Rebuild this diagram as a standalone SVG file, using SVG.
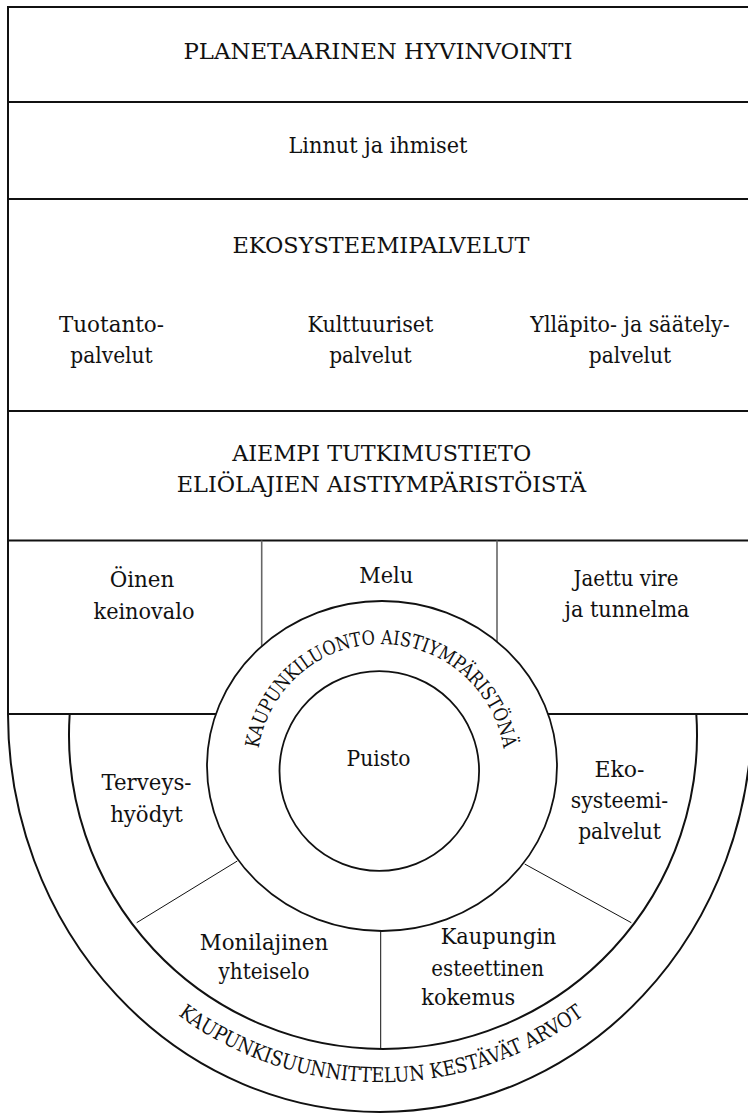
<svg xmlns="http://www.w3.org/2000/svg" width="748" height="1113" viewBox="0 0 748 1113">
  <style>
    .frame { fill: none; stroke: #111; stroke-width: 2; }
    .thin { fill: none; stroke: #111; stroke-width: 1; }
    .gray { fill: none; stroke: #666; stroke-width: 1.6; }
    .ring { fill: #fff; stroke: #111; stroke-width: 1.8; }
  </style>
  <defs>
    <path id="ringTop" d="M 293.3 855.7 A 124 124 0 1 1 468.7 855.7"/>
    <path id="ringBottom" d="M 45.2 681.8 A 341 341 0 1 0 716.8 681.8"/>
  </defs>
  <rect x="0" y="0" width="748" height="1113" fill="#fff"/>

  <g id="frame">
    <line class="frame" x1="8" y1="7" x2="760" y2="7"/>
    <line class="frame" x1="8" y1="6" x2="8" y2="714"/>
    <path class="frame" d="M 8 714 A 372 398 0 0 0 752 714"/>
  </g>

  <g id="dividers">
    <line class="frame" x1="8" y1="102" x2="760" y2="102"/>
    <line class="frame" x1="8" y1="199" x2="760" y2="199"/>
    <line class="frame" x1="8" y1="411" x2="760" y2="411"/>
    <line class="frame" x1="8" y1="540.5" x2="760" y2="540.5"/>
    <line class="frame" x1="8" y1="714" x2="760" y2="714"/>
    <line class="gray" x1="261.7" y1="540.5" x2="261.7" y2="700"/>
    <line class="gray" x1="497" y1="540.5" x2="497" y2="700"/>
    <path class="frame" d="M 69.7 714 A 314 314 0 1 0 696.3 714"/>
    <line class="thin" x1="136.7" y1="922.7" x2="237.3" y2="861"/>
    <line class="thin" x1="524.7" y1="864" x2="631.3" y2="922.7"/>
    <line class="thin" x1="380.7" y1="931" x2="380.7" y2="1049"/>
  </g>

  <g font-family="DejaVu Serif, Liberation Serif, Noto Serif, serif" font-size="22.5" text-anchor="middle" fill="#111">
  <g id="planetaarinen-hyvinvointi">
    <text x="378" y="59" font-size="22" textLength="389" lengthAdjust="spacingAndGlyphs">PLANETAARINEN HYVINVOINTI</text>
  </g>
  <g id="linnut-ja-ihmiset">
    <text x="378" y="153" textLength="179" lengthAdjust="spacingAndGlyphs">Linnut ja ihmiset</text>
  </g>
  <g id="ekosysteemipalvelut">
    <text x="381" y="252.7" font-size="22" textLength="297" lengthAdjust="spacingAndGlyphs">EKOSYSTEEMIPALVELUT</text>
    <g id="tuotantopalvelut">
      <text x="111.5" y="331.7" textLength="105" lengthAdjust="spacingAndGlyphs">Tuotanto-</text>
      <text x="111.5" y="363.3" textLength="82.5" lengthAdjust="spacingAndGlyphs">palvelut</text>
    </g>
    <g id="kulttuuriset-palvelut">
      <text x="370.4" y="331.7" textLength="126" lengthAdjust="spacingAndGlyphs">Kulttuuriset</text>
      <text x="370.4" y="363.3" textLength="82.5" lengthAdjust="spacingAndGlyphs">palvelut</text>
    </g>
    <g id="yllapito-saately">
      <text x="630" y="331.7" textLength="199.4" lengthAdjust="spacingAndGlyphs">Ylläpito- ja säätely-</text>
      <text x="630" y="363.3" textLength="82.5" lengthAdjust="spacingAndGlyphs">palvelut</text>
    </g>
  </g>
  <g id="aiempi-tutkimustieto">
    <text x="381.7" y="460.7" font-size="22" textLength="299" lengthAdjust="spacingAndGlyphs">AIEMPI TUTKIMUSTIETO</text>
    <text x="381.5" y="491.7" font-size="22" textLength="409.6" lengthAdjust="spacingAndGlyphs">ELIÖLAJIEN AISTIYMPÄRISTÖISTÄ</text>
  </g>
  <g id="oinen-keinovalo">
    <text x="142" y="586.7" textLength="64.7" lengthAdjust="spacingAndGlyphs">Öinen</text>
    <text x="144" y="619" textLength="101" lengthAdjust="spacingAndGlyphs">keinovalo</text>
  </g>
  <g id="melu">
    <text x="386.3" y="582.7" textLength="54" lengthAdjust="spacingAndGlyphs">Melu</text>
  </g>
  <g id="jaettu-vire">
    <text x="626" y="586" textLength="105" lengthAdjust="spacingAndGlyphs">Jaettu vire</text>
    <text x="627" y="617.3" textLength="125" lengthAdjust="spacingAndGlyphs">ja tunnelma</text>
  </g>

  <g id="kaupunkiluonto">
    <ellipse class="ring" cx="382" cy="766" rx="175" ry="165"/>
    <text font-size="19.5"><textPath href="#ringTop" startOffset="50%" textLength="350" lengthAdjust="spacingAndGlyphs">KAUPUNKILUONTO AISTIYMPÄRISTÖNÄ</textPath></text>
  </g>
  <g id="puisto">
    <circle class="ring" cx="379.3" cy="771" r="99.8"/>
    <text x="378.5" y="765.5" textLength="64" lengthAdjust="spacingAndGlyphs">Puisto</text>
  </g>

  <g id="terveyshyodyt">
    <text x="146.5" y="790" textLength="90" lengthAdjust="spacingAndGlyphs">Terveys-</text>
    <text x="146.5" y="821.5" textLength="72.7" lengthAdjust="spacingAndGlyphs">hyödyt</text>
  </g>
  <g id="ekosysteemipalvelut-ring">
    <text x="619.5" y="777.3" textLength="50" lengthAdjust="spacingAndGlyphs">Eko-</text>
    <text x="619.5" y="808.3" textLength="97.3" lengthAdjust="spacingAndGlyphs">systeemi-</text>
    <text x="619.5" y="839.3" textLength="82.7" lengthAdjust="spacingAndGlyphs">palvelut</text>
  </g>
  <g id="monilajinen-yhteiselo">
    <text x="264" y="950" textLength="128.3" lengthAdjust="spacingAndGlyphs">Monilajinen</text>
    <text x="264" y="979.3" textLength="91" lengthAdjust="spacingAndGlyphs">yhteiselo</text>
  </g>
  <g id="kaupungin-esteettinen-kokemus">
    <text x="498.5" y="944.3" textLength="115.7" lengthAdjust="spacingAndGlyphs">Kaupungin</text>
    <text x="487.7" y="975.7" textLength="112.7" lengthAdjust="spacingAndGlyphs">esteettinen</text>
    <text x="468.3" y="1005" textLength="94" lengthAdjust="spacingAndGlyphs">kokemus</text>
  </g>
  <g id="kestavat-arvot">
    <text font-size="20.5"><textPath href="#ringBottom" startOffset="50%" textLength="435" lengthAdjust="spacingAndGlyphs">KAUPUNKISUUNNITTELUN KESTÄVÄT ARVOT</textPath></text>
  </g>
  </g>
</svg>
